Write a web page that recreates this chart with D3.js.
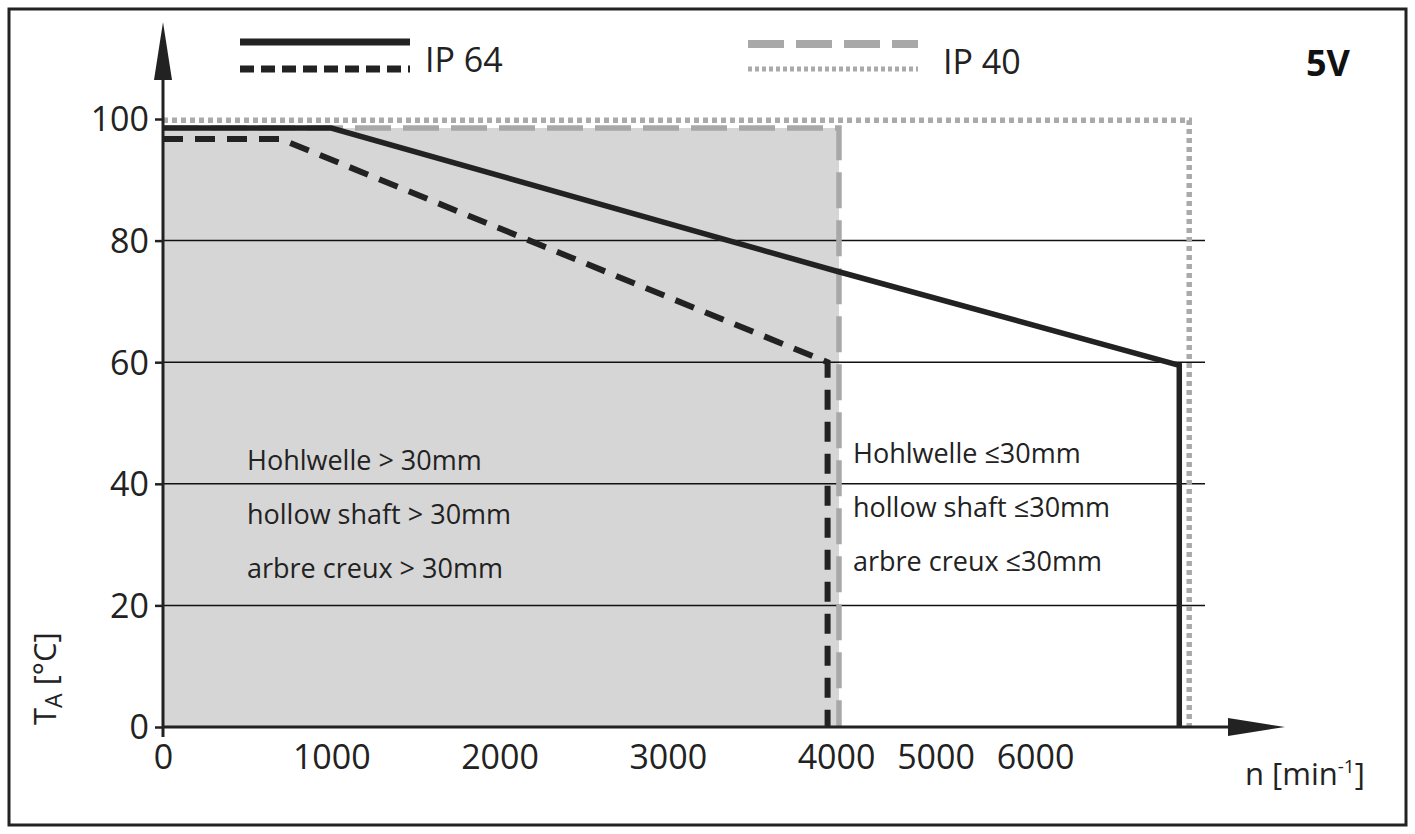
<!DOCTYPE html>
<html><head><meta charset="utf-8">
<script src="https://cdn.jsdelivr.net/npm/d3@7"></script>
<style>body{margin:0;background:#fff}text{font-family:"Open Sans","DejaVu Sans",sans-serif}</style>
</head><body><div id="chart"></div>
<script>
// data
const xTicks = [0, 1000, 2000, 3000, 4000, 5000, 6000];
const yTicks = [0, 20, 40, 60, 80, 100];
const ip64Solid = [[0,98.5],[1000,98.5],[4000,75],[7450,59.5],[7450,0]];
const ip64Dash = [[0,96.7],[700,96.7],[3950,60],[3950,0]];
const ip40Dash = [[0,98.5],[4030,98.5],[4030,0]];
const ip40Dot = [[0,99.8],[7550,99.8],[7550,0]];
const labelsLeft = ["Hohlwelle > 30mm", "hollow shaft > 30mm", "arbre creux > 30mm"];
const labelsRight = ["Hohlwelle \u226430mm", "hollow shaft \u226430mm", "arbre creux \u226430mm"];

const W = 1415, H = 834;
const svg = d3.select("#chart").append("svg").attr("width", W).attr("height", H);

// axis is compressed beyond 4000
const x = d3.scaleLinear().domain([0, 4000, 6000]).range([163, 836, 1035]);
const y = d3.scaleLinear().domain([0, 100]).range([727, 119]);

svg.append("rect").attr("x", 9).attr("y", 9).attr("width", W - 18).attr("height", H - 18)
    .attr("fill", "none").attr("stroke", "#222").attr("stroke-width", 3);

const line = d3.line().x(d => x(d[0])).y(d => y(d[1]));

// shaded area
svg.append("path").attr("d", d3.area().x(d => x(d[0])).y0(y(0)).y1(d => y(d[1]))(ip40Dash.slice(0, 2)))
    .attr("fill", "#d6d6d6");

// grid
svg.selectAll(".grid").data(yTicks.filter(d => d > 0 && d < 100)).enter().append("line")
    .attr("x1", x(0)).attr("x2", 1205).attr("y1", d => y(d)).attr("y2", d => y(d))
    .attr("stroke", "#111").attr("stroke-width", 1.5);

svg.append("path").attr("d", line(ip40Dot)).attr("fill", "none")
    .attr("stroke", "#aaa").attr("stroke-width", 5.5).attr("stroke-dasharray", "5,4");
svg.append("path").attr("d", line(ip40Dash)).attr("fill", "none")
    .attr("stroke", "#a8a8a8").attr("stroke-width", 5.5).attr("stroke-dasharray", "36,12");
svg.append("path").attr("d", line(ip64Dash)).attr("fill", "none")
    .attr("stroke", "#222").attr("stroke-width", 6).attr("stroke-dasharray", "20,12");
svg.append("path").attr("d", line(ip64Solid)).attr("fill", "none")
    .attr("stroke", "#222").attr("stroke-width", 5.5);

// axes
const yAxis = svg.append("g").attr("transform", `translate(${x(0)},0)`)
    .call(d3.axisLeft(y).tickValues(yTicks).tickSize(8).tickSizeOuter(0));
const xAxis = svg.append("g").attr("transform", `translate(0,${y(0)})`)
    .call(d3.axisBottom(x).tickValues(xTicks).tickFormat(d3.format("d")).tickSize(0).tickSizeOuter(0).tickPadding(18));
[yAxis, xAxis].forEach(g => {
    g.select(".domain").remove();
    g.selectAll("text").attr("font-size", 34).attr("fill", "#222");
    g.selectAll("line").attr("stroke", "#222").attr("stroke-width", 2.5);
});
yAxis.selectAll("text").attr("dy", "0.35em").attr("x", -14);
xAxis.selectAll("text").attr("dy", "0.71em");
svg.append("line").attr("x1", x(0)).attr("x2", x(0)).attr("y1", y(0) + 10).attr("y2", 60)
    .attr("stroke", "#222").attr("stroke-width", 3);
svg.append("path").attr("d", `M${x(0)},22 L${x(0) - 9},80 L${x(0) + 9},80 Z`).attr("fill", "#222");
svg.append("line").attr("x1", x(0)).attr("x2", 1250).attr("y1", y(0)).attr("y2", y(0))
    .attr("stroke", "#222").attr("stroke-width", 3);
svg.append("path").attr("d", `M1285,${y(0)} L1228,${y(0) - 9} L1228,${y(0) + 9} Z`).attr("fill", "#222");

// axis titles
const xt = svg.append("text").attr("x", 1245).attr("y", 785).attr("font-size", 31).attr("fill", "#222");
xt.append("tspan").text("n [min");
xt.append("tspan").attr("font-size", 19).attr("dy", -12).text("-1");
xt.append("tspan").attr("dy", 12).text("]");
const yt = svg.append("text").attr("transform", "translate(56,725) rotate(-90)")
    .attr("font-size", 31).attr("fill", "#222");
yt.append("tspan").text("T");
yt.append("tspan").attr("font-size", 23).attr("dy", 6).text("A");
yt.append("tspan").attr("dy", -6).text(" [°C]");

// legend
svg.append("line").attr("x1", 240).attr("x2", 410).attr("y1", 42).attr("y2", 42).attr("stroke", "#222").attr("stroke-width", 7);
svg.append("line").attr("x1", 240).attr("x2", 410).attr("y1", 69).attr("y2", 69).attr("stroke", "#222").attr("stroke-width", 7).attr("stroke-dasharray", "14,7");
svg.append("text").attr("x", 425).attr("y", 72).attr("font-size", 34).attr("fill", "#222").text("IP 64");
svg.append("line").attr("x1", 748).attr("x2", 918).attr("y1", 44).attr("y2", 44).attr("stroke", "#a8a8a8").attr("stroke-width", 8).attr("stroke-dasharray", "36,12");
svg.append("line").attr("x1", 748).attr("x2", 918).attr("y1", 69).attr("y2", 69).attr("stroke", "#aaa").attr("stroke-width", 5).attr("stroke-dasharray", "4,3");
svg.append("text").attr("x", 943).attr("y", 74).attr("font-size", 34).attr("fill", "#222").text("IP 40");
svg.append("text").attr("x", 1350).attr("y", 76).attr("font-size", 36).attr("font-weight", "bold").attr("text-anchor", "end").attr("fill", "#111").text("5V");

// region labels
labelsLeft.forEach((t, i) => svg.append("text").attr("x", 247).attr("y", 470 + i * 54)
    .attr("font-size", 27).attr("fill", "#222").text(t));
labelsRight.forEach((t, i) => svg.append("text").attr("x", 853).attr("y", 463 + i * 54)
    .attr("font-size", 27).attr("fill", "#222").text(t));
</script></body></html>
